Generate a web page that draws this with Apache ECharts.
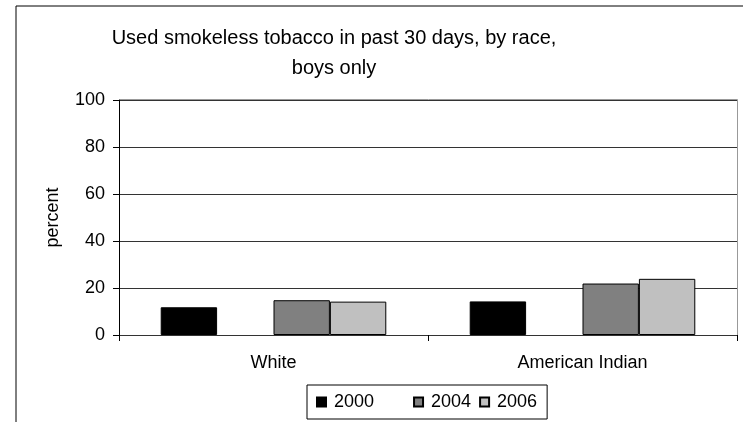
<!DOCTYPE html>
<html><head><meta charset="utf-8">
<script src="https://cdn.jsdelivr.net/npm/echarts@6/dist/echarts.min.js"></script>
<style>html,body{margin:0;padding:0;background:#fff}#c{width:743px;height:422px}</style>
</head><body><div id="c"></div>
<script>
const categories = ['White', 'American Indian'];
const seriesNames = ['2000', ' ', '2004', '2006'];
const values2000 = [11.8, 14.3];
const values2002 = [null, null];
const values2004 = [14.8, 21.9];
const values2006 = [14.2, 23.9];
const yTicks = [0, 20, 40, 60, 80, 100];

const font = 'Liberation Sans, Arial, sans-serif';
const colors = ['#000000', 'rgba(0,0,0,0)', '#808080', '#c0c0c0'];
const dataSets = [values2000, values2002, values2004, values2006];

const chart = echarts.init(document.getElementById('c'));
chart.setOption({
  animation: false,
  title: {
    text: 'Used smokeless tobacco in past 30 days, by race,\nboys only',
    left: 329, top: 18, textAlign: 'center',
    textStyle: {fontFamily: font, fontSize: 20, fontWeight: 'normal', color: '#000', lineHeight: 30}
  },
  graphic: [{type: 'rect', shape: {x: 16, y: 6, width: 800, height: 500},
    style: {fill: 'none', stroke: '#000', lineWidth: 1}, silent: true, z: -1},
    {type: 'line', shape: {x1: 119.5, y1: 99.5, x2: 737.5, y2: 99.5}, style: {stroke: '#999', lineWidth: 1}},
    {type: 'line', shape: {x1: 737.5, y1: 99.5, x2: 737.5, y2: 335}, style: {stroke: '#999', lineWidth: 1}}],
  legend: {
    data: seriesNames, left: 307, top: 385, orient: 'horizontal',
    itemWidth: 9, itemHeight: 9, itemGap: 8, icon: 'rect',
    padding: [8, 10, 8, 9], borderColor: '#000', borderWidth: 1,
    textStyle: {fontFamily: font, fontSize: 18, color: '#000', padding: [0, 0, 0, 3]},
    selectedMode: false
  },
  grid: {left: 119, right: 6, top: 100, bottom: 87, containLabel: false},
  xAxis: {
    type: 'category', data: categories,
    axisLine: {lineStyle: {color: '#333', width: 1}},
    axisTick: {show: true, alignWithLabel: false, length: 6, lineStyle: {color: '#000'}},
    axisLabel: {fontFamily: font, fontSize: 18, color: '#000', margin: 19},
    splitLine: {show: false}
  },
  yAxis: {
    type: 'value', min: 0, max: 100, interval: 20,
    name: 'percent', nameLocation: 'middle', nameGap: 57, nameRotate: 90,
    nameTextStyle: {fontFamily: font, fontSize: 18, color: '#000'},
    axisLine: {show: true, lineStyle: {color: '#000'}},
    axisTick: {show: true, length: 6, lineStyle: {color: '#000'}},
    axisLabel: {fontFamily: font, fontSize: 18, color: '#000', margin: 14,
      formatter: v => yTicks.includes(v) ? String(v) : ''},
    splitLine: {show: true, lineStyle: {color: '#333', width: 1}}
  },
  series: seriesNames.map((n, i) => ({
    name: n, type: 'bar', data: dataSets[i],
    barGap: '0%', barCategoryGap: '27%',
    itemStyle: {color: colors[i], borderColor: i === 1 ? 'rgba(0,0,0,0)' : '#000', borderWidth: 1}
  }))
});
</script></body></html>
